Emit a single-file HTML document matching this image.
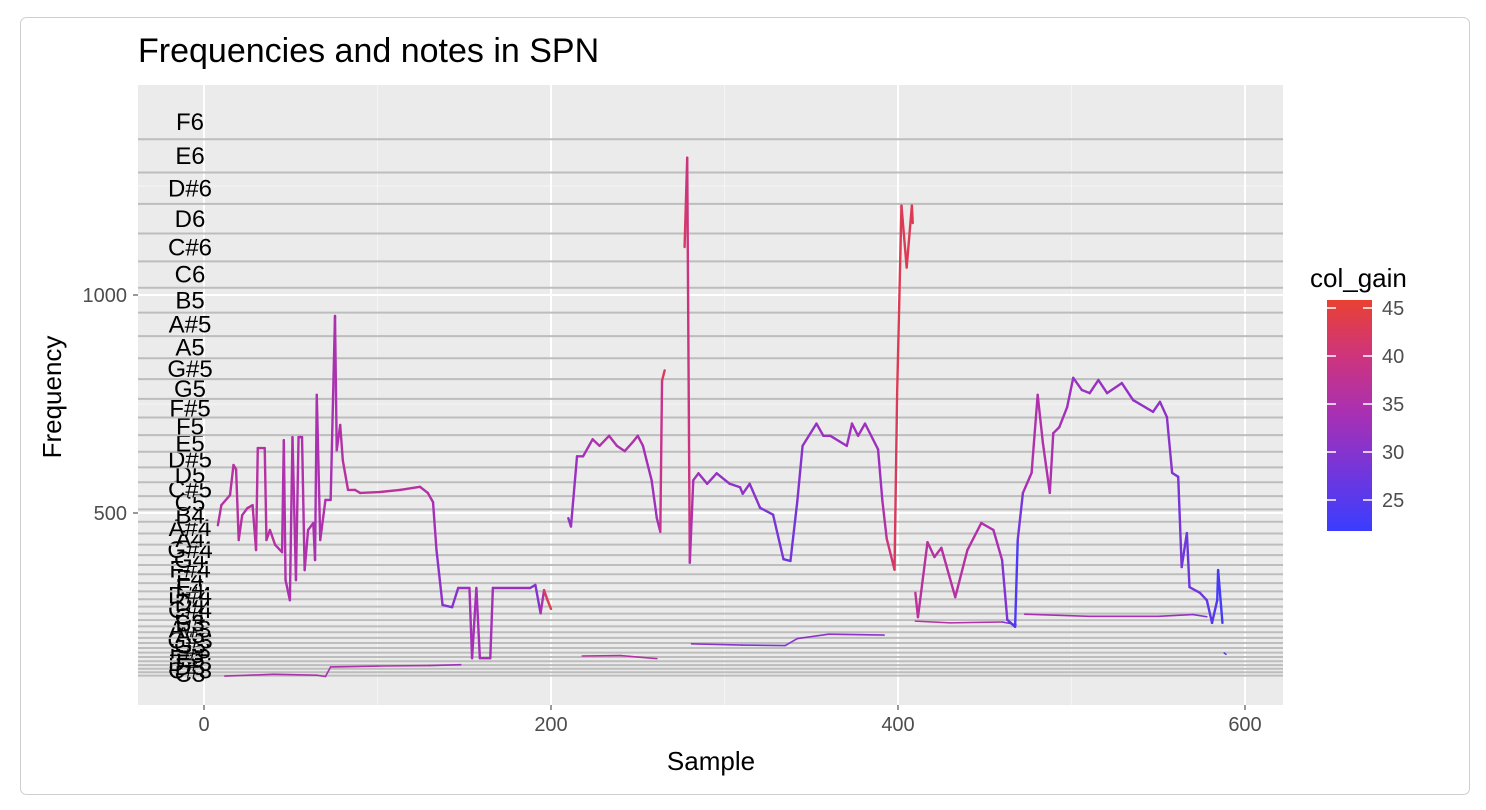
<!DOCTYPE html>
<html><head><meta charset="utf-8"><style>
html,body{margin:0;padding:0;background:#fff;}
svg{display:block;font-family:"Liberation Sans",sans-serif;}
</style></head><body>
<svg id="chart" width="1486" height="810">
<rect x="20.5" y="17.5" width="1449" height="777" rx="6" fill="#fff" stroke="#cfcfcf"/>
<text x="138" y="62" font-size="34" fill="#000">Frequencies and notes in SPN</text>
<rect x="138" y="85" width="1145" height="620" fill="#ebebeb"/>
<g id="grid"></g><g id="notes"></g><g id="series"></g><g id="axes"></g><g id="legend"></g>
<text x="711" y="770" font-size="26" text-anchor="middle" fill="#000">Sample</text>
<text transform="translate(61,397) rotate(-90)" font-size="26" text-anchor="middle" fill="#000">Frequency</text>
</svg>
<script>
const noteNames=["C3","C#3","D3","D#3","E3","F3","F#3","G3","G#3","A3","A#3","B3","C4","C#4","D4","D#4","E4","F4","F#4","G4","G#4","A4","A#4","B4","C5","C#5","D5","D#5","E5","F5","F#5","G5","G#5","A5","A#5","B5","C6","C#6","D6","D#6","E6","F6"];
const noteFreqs=[130.81,138.59,146.83,155.56,164.81,174.61,185,196,207.65,220,233.08,246.94,261.63,277.18,293.66,311.13,329.63,349.23,369.99,392,415.3,440,466.16,493.88,523.25,554.37,587.33,622.25,659.25,698.46,739.99,783.99,830.61,880,932.33,987.77,1046.5,1108.73,1174.66,1244.51,1318.51,1396.91];
const xTicks=[0,200,400,600];
const yTicks=[500,1000];
const legendTicks=[25,30,35,40,45];
// main series: [sample,freq,gain]; null = gap
const mainSeries=[
[8,472,36],[10,518,36],[15,541,36],[17,610,36],[18.5,600,36],[20,438,36],[22,495,36],[25,511,36],[28,518,36],[30,415,36],[31,649,36],[35,649,36],[36,438,36],[38,461,36],[41,427,36],[45,410,35],[46,667,35],[47,346,35],[49.5,300,34],[51,674,35],[53,346,35],[54.5,674,35],[56.5,674,35],[58,369,35],[60,461,35],[63,477,35],[64,392,34],[65,771,34],[67,438,35],[70,530,35],[73,530,34],[75.5,952,34],[76.5,644,35],[78.5,702,35],[80,621,36],[83,553,37],[87,553,37],[90,546,37],[101,548,37],[113,553,37],[124.5,560,36],[129,546,36],[132,525,35],[134,415,32],[137.5,289,30],[143,284,29],[146.5,328,31],[153,328,33],[154.5,167,34],[157,328,33],[159,167,34],[165,167,34],[166.5,328,33],[188,328,31],[191,335,29],[194,270,30],[196,323,40],[198,300,44],[200,280,44],null,
[210,488,30],[211.5,469,31],[215,630,33],[218.5,630,33],[224,669,34],[228,654,35],[233.5,677,35],[238,654,35],[242.5,642,34],[247,662,35],[250,677,35],[253,654,34],[255,622,33],[258,575,33],[261,488,33],[263,457,35],[264,803,42],[265.5,827,43],null,
[277,1110,42],[278.5,1315,42],[280,386,37],[282,575,33],[285,591,33],[290,567,32],[295.5,591,32],[303,567,31],[309,559,31],[310.5,544,31],[314.5,567,31],[320.5,512,30],[328,496,29],[334,394,28],[338,390,27],[342,528,29],[345,654,31],[353,705,32],[357,677,32],[361,677,32],[370.5,654,32],[373.5,705,33],[377,677,33],[381,705,33],[388.5,646,32],[391,528,33],[393.5,441,38],[398,370,42],[399.5,772,43],[402,1205,43],[405,1063,43],[408,1205,43],[408.5,1165,43],null,
[410,317,38],[411.5,261,37],[417,433,36],[421,399,36],[425,420,36],[433,307,36],[440,415,36],[448,477,35],[455,461,35],[460,392,33],[463,255,26],[467.5,239,24],[469,438,24],[472,546,33],[477,592,35],[480.5,771,35],[483.5,661,35],[487.5,546,35],[489.5,683,34],[493,697,34],[497.5,743,33],[501,810,32],[506,782,32],[510.5,775,32],[515.5,805,32],[520.5,775,32],[529,798,32],[535.5,759,31],[547,732,31],[551,755,31],[555,720,31],[558,592,30],[561.5,583,29],[563.5,376,28],[566.5,454,27],[568,330,28],[574,317,28],[578,300,27],[581,248,25],[584,300,24],[584.5,369,23],[587,248,23]
];
const lowSeries=[
[12,126,35],[40,130,35],[65,128,34],[70,125,34],[73,147,35],[100,149,35],[130,150,35],[148,152,31],null,
[218,172,37],[240,173,36],[261,166,36],null,
[281,200,31],[310,197,30],[335,196,29],[342,212,31],[360,222,31],[392,220,31],null,
[410,252,36],[430,248,36],[460,250,34],[468,244,27],null,
[473,268,34],[510,263,34],[550,263,33],[570,267,32],[578,262,27],null,
[588,179,24],[589,176,24]
];
const NS="http://www.w3.org/2000/svg";
const X=s=>204+s*1.735;
const Y=f=>513-(f-500)*0.436;
const LY=g=>308+(45-g)*9.6;
const stops=[[0,[58,61,255]],[0.45,[160,48,190]],[0.7,[200,50,140]],[1,[233,65,50]]];
function col(g){let t=Math.max(0,Math.min(1,(g-22)/(45.8-22)));
let i=0;while(i<stops.length-2&&t>stops[i+1][0])i++;
const [t0,a]=stops[i],[t1,b]=stops[i+1];const u=(t-t0)/(t1-t0);
return `rgb(${a.map((v,k)=>Math.round(v+(b[k]-v)*u)).join(',')})`;}
function mk(tag,attrs,parent){const e=document.createElementNS(NS,tag);for(const k in attrs)e.setAttribute(k,attrs[k]);parent.appendChild(e);return e;}
const grid=document.getElementById('grid');
[100,300,500].forEach(v=>{const l=mk('line',{x1:X(v),x2:X(v),y1:85,y2:705,stroke:'#f5f5f5','stroke-width':1},grid);

});
[250,750,1250].forEach(v=>{const l=mk('line',{x1:138,x2:1283,y1:Y(v),y2:Y(v),stroke:'#f5f5f5','stroke-width':1},grid);

});
xTicks.forEach(v=>{const l=mk('line',{x1:X(v),x2:X(v),y1:85,y2:705,stroke:'#fff','stroke-width':2},grid);

});
yTicks.forEach(v=>{const l=mk('line',{x1:138,x2:1283,y1:Y(v),y2:Y(v),stroke:'#fff','stroke-width':2},grid);

});
const notes=document.getElementById('notes');
noteFreqs.forEach((f,i)=>{const l=mk('line',{x1:138,x2:1283,y1:Y(f*0.9715),y2:Y(f*0.9715),stroke:'#bdbdbd','stroke-width':2},notes);


const t=mk('text',{x:190,y:Y(f)+8,'font-size':24,'text-anchor':'middle',fill:'#000'},notes);
t.textContent=noteNames[i];

});
const series=document.getElementById('series');
function draw(arr,w,name){for(let i=0;i<arr.length-1;i++){const p=arr[i],q=arr[i+1];if(!p||!q)continue;
const l=mk('line',{x1:X(p[0]),y1:Y(p[1]),x2:X(q[0]),y2:Y(q[1]),stroke:col((p[2]+q[2])/2),'stroke-width':w,'stroke-linecap':'round'},series);

}}
draw(lowSeries,1.6,'harmonic-line-segment');
draw(mainSeries,2.4,'frequency-line-segment');
const axes=document.getElementById('axes');
xTicks.forEach(v=>{mk('line',{x1:X(v),x2:X(v),y1:705,y2:710,stroke:'#333'},axes);
const t=mk('text',{x:X(v),y:731,'font-size':20,'text-anchor':'middle',fill:'#4d4d4d'},axes);t.textContent=v;

});
yTicks.forEach(v=>{mk('line',{x1:133,x2:138,y1:Y(v),y2:Y(v),stroke:'#333'},axes);
const t=mk('text',{x:127,y:Y(v)+7,'font-size':20,'text-anchor':'end',fill:'#4d4d4d'},axes);t.textContent=v;

});
const lg=document.getElementById('legend');
const tt=mk('text',{x:1310,y:287,'font-size':26,fill:'#000'},lg);tt.textContent='col_gain';


const defs=mk('defs',{},lg);const gr=mk('linearGradient',{id:'lgrad',x1:0,y1:1,x2:0,y2:0},defs);
[0,0.25,0.5,0.75,1].forEach(o=>mk('stop',{offset:o,'stop-color':col(21.8+o*24)},gr));
const bar=mk('rect',{x:1327,y:300,width:45,height:231,fill:'url(#lgrad)'},lg);


legendTicks.forEach(v=>{mk('line',{x1:1327,x2:1336,y1:LY(v),y2:LY(v),stroke:'#fff','stroke-width':1.5},lg);
mk('line',{x1:1363,x2:1372,y1:LY(v),y2:LY(v),stroke:'#fff','stroke-width':1.5},lg);
const t=mk('text',{x:1382,y:LY(v)+7,'font-size':20,fill:'#4d4d4d'},lg);t.textContent=v;

});
</script>
</body></html>
